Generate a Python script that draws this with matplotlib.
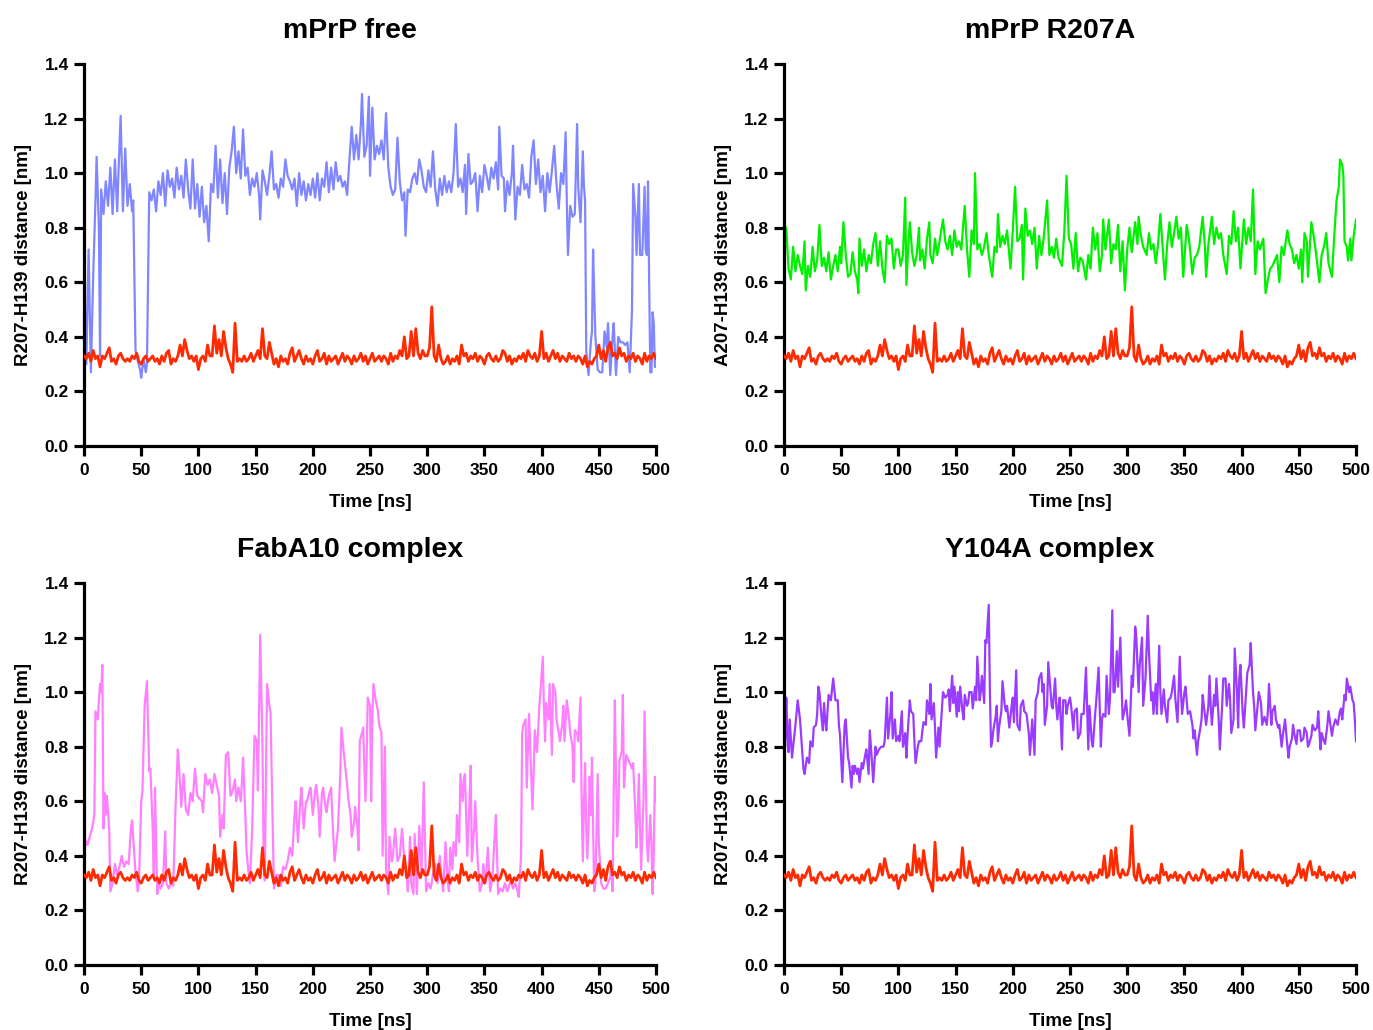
import numpy as np
import matplotlib
matplotlib.use("Agg")
import matplotlib.pyplot as plt

plt.rcParams["font.family"] = ["Liberation Sans", "DejaVu Sans"]
plt.rcParams["font.weight"] = "bold"

# ── data ──────────────────────────────────────────────────────────────────────

# reference trace, same in all four panels, every 2 ns from 0 to 500
ref_vals = [
    0.33, 0.32, 0.34, 0.31, 0.35, 0.32, 0.33, 0.29, 0.33, 0.32,
    0.34, 0.36, 0.31, 0.32, 0.30, 0.33, 0.34, 0.32, 0.31, 0.32,
    0.31, 0.33, 0.32, 0.34, 0.31, 0.30, 0.32, 0.33, 0.31, 0.32,
    0.33, 0.31, 0.32, 0.30, 0.33, 0.31, 0.34, 0.35, 0.30, 0.32,
    0.31, 0.33, 0.37, 0.33, 0.39, 0.35, 0.32, 0.33, 0.31, 0.33,
    0.28, 0.32, 0.33, 0.31, 0.37, 0.33, 0.33, 0.44, 0.34, 0.39,
    0.33, 0.42, 0.36, 0.32, 0.30, 0.27, 0.45, 0.31, 0.32, 0.31,
    0.33, 0.31, 0.32, 0.34, 0.31, 0.33, 0.35, 0.32, 0.43, 0.33,
    0.32, 0.38, 0.34, 0.30, 0.32, 0.29, 0.33, 0.31, 0.32, 0.30,
    0.34, 0.36, 0.31, 0.33, 0.35, 0.32, 0.30, 0.33, 0.31, 0.32,
    0.30, 0.33, 0.35, 0.31, 0.32, 0.34, 0.30, 0.33, 0.31, 0.32,
    0.33, 0.30, 0.32, 0.34, 0.31, 0.33, 0.32, 0.30, 0.33, 0.31,
    0.32, 0.34, 0.31, 0.33, 0.30, 0.32, 0.34, 0.31, 0.32, 0.33,
    0.31, 0.33, 0.32, 0.30, 0.34, 0.31, 0.33, 0.32, 0.35, 0.33,
    0.40, 0.32, 0.33, 0.42, 0.33, 0.43, 0.34, 0.32, 0.35, 0.33,
    0.33, 0.36, 0.51, 0.33, 0.31, 0.37, 0.32, 0.30, 0.31, 0.33,
    0.30, 0.32, 0.31, 0.33, 0.30, 0.37, 0.33, 0.34, 0.31, 0.33,
    0.32, 0.34, 0.31, 0.33, 0.32, 0.30, 0.33, 0.34, 0.32, 0.31,
    0.33, 0.31, 0.32, 0.35, 0.34, 0.31, 0.33, 0.30, 0.32, 0.31,
    0.33, 0.32, 0.34, 0.31, 0.35, 0.33, 0.32, 0.34, 0.31, 0.33,
    0.42, 0.32, 0.34, 0.31, 0.33, 0.35, 0.32, 0.34, 0.31, 0.33,
    0.32, 0.31, 0.34, 0.32, 0.33, 0.31, 0.33, 0.32, 0.30, 0.33,
    0.29, 0.31, 0.30, 0.32, 0.33, 0.37, 0.32, 0.35, 0.31, 0.36,
    0.38, 0.33, 0.34, 0.32, 0.36, 0.33, 0.34, 0.31, 0.33, 0.32,
    0.34, 0.31, 0.33, 0.32, 0.30, 0.34, 0.31, 0.33, 0.32, 0.34,
    0.32,
]

# (time ns, distance nm)
free_pts = [
    (0, 0.65), (2, 0.30), (4, 0.72), (6, 0.27), (8, 0.62), (10, 0.90), (11, 1.06), (13, 0.80),
    (14, 0.33), (15, 0.94), (17, 0.85), (19, 0.97), (21, 0.88), (23, 1.02), (25, 0.85), (27, 1.05),
    (29, 0.86), (30, 0.99), (32, 1.21), (34, 0.86), (36, 1.09), (38, 0.88), (40, 0.96), (42, 0.86),
    (43, 0.90), (45, 0.35), (47, 0.31), (49, 0.28), (50, 0.25), (52, 0.32), (54, 0.27), (55, 0.30),
    (57, 0.93), (59, 0.90), (61, 0.94), (63, 0.86), (65, 0.97), (67, 0.92), (69, 1.00), (71, 0.88),
    (73, 1.01), (75, 0.95), (77, 0.98), (79, 0.91), (81, 1.02), (83, 0.94), (85, 0.99), (87, 0.91),
    (89, 1.05), (91, 0.94), (93, 0.87), (95, 1.05), (97, 0.87), (99, 0.96), (101, 0.84), (103, 0.95),
    (105, 0.82), (107, 0.88), (109, 0.75), (111, 0.96), (113, 0.93), (115, 1.10), (117, 0.91),
    (119, 1.05), (121, 0.89), (123, 1.00), (125, 0.85), (127, 1.02), (129, 1.08), (131, 1.17),
    (133, 1.00), (135, 1.08), (137, 0.98), (139, 1.16), (141, 0.99), (143, 1.02), (145, 0.92),
    (147, 0.98), (149, 0.95), (151, 1.00), (153, 0.92), (154, 0.83), (156, 1.01), (158, 0.97),
    (160, 0.92), (162, 0.99), (164, 1.08), (166, 0.94), (168, 0.96), (170, 0.91), (172, 0.98),
    (174, 0.95), (176, 1.05), (178, 0.99), (180, 0.97), (182, 0.94), (184, 0.98), (186, 0.88),
    (188, 1.00), (190, 0.92), (192, 0.97), (194, 0.90), (196, 0.96), (198, 0.92), (200, 0.98),
    (202, 0.91), (204, 1.00), (206, 0.90), (208, 0.98), (210, 0.95), (212, 1.04), (214, 0.93),
    (216, 1.02), (218, 0.94), (220, 1.04), (222, 0.97), (224, 0.99), (226, 0.95), (228, 0.97),
    (230, 0.92), (232, 1.05), (234, 1.17), (236, 1.05), (238, 1.14), (240, 1.05), (242, 1.18),
    (243, 1.29), (245, 1.06), (247, 1.10), (249, 1.28), (250, 0.99), (252, 1.24), (254, 1.05),
    (256, 1.10), (258, 1.07), (260, 1.12), (262, 1.05), (264, 1.22), (266, 1.02), (268, 0.95),
    (270, 0.92), (272, 0.94), (274, 1.13), (276, 0.97), (278, 0.90), (280, 0.93), (281, 0.77),
    (283, 0.94), (285, 0.93), (287, 0.98), (289, 1.00), (291, 0.96), (293, 1.05), (295, 1.01),
    (297, 0.95), (299, 0.93), (301, 1.01), (303, 0.95), (305, 1.08), (307, 0.94), (309, 0.88),
    (311, 0.98), (313, 0.92), (315, 0.99), (317, 0.93), (319, 0.97), (321, 0.93), (323, 1.00),
    (325, 1.18), (327, 0.95), (329, 0.98), (331, 0.93), (333, 1.03), (334, 0.85), (336, 1.07),
    (338, 0.96), (340, 0.97), (342, 1.00), (344, 0.86), (346, 0.99), (348, 0.93), (350, 1.03),
    (352, 0.99), (354, 0.94), (356, 1.02), (358, 0.98), (360, 1.04), (362, 0.94), (363, 1.17),
    (365, 0.99), (367, 0.98), (368, 0.86), (370, 0.97), (372, 0.92), (374, 1.00), (375, 1.10),
    (377, 0.83), (379, 0.95), (381, 0.92), (383, 1.03), (385, 0.94), (387, 0.96), (389, 0.91),
    (391, 1.06), (393, 1.12), (395, 0.96), (397, 1.05), (399, 0.93), (401, 0.99), (403, 0.86),
    (405, 1.00), (407, 0.93), (409, 1.01), (411, 1.10), (413, 0.96), (415, 0.87), (417, 1.00),
    (419, 0.96), (421, 1.15), (422, 0.90), (423, 0.70), (425, 0.88), (427, 0.84), (429, 0.85),
    (431, 1.18), (432, 0.95), (434, 0.82), (436, 1.08), (437, 0.95), (438, 0.90), (439, 0.35),
    (441, 0.26), (443, 0.38), (444, 0.42), (445, 0.72), (446, 0.55), (447, 0.40), (449, 0.28),
    (451, 0.27), (453, 0.27), (455, 0.42), (457, 0.36), (458, 0.45), (460, 0.26), (462, 0.40),
    (463, 0.45), (465, 0.26), (467, 0.40), (469, 0.38), (471, 0.38), (473, 0.37), (475, 0.38),
    (477, 0.27), (479, 0.50), (480, 0.96), (482, 0.84), (483, 0.70), (485, 0.96), (486, 0.70),
    (488, 0.70), (490, 0.95), (491, 0.72), (492, 0.70), (493, 0.97), (494, 0.60), (495, 0.27),
    (496, 0.27), (497, 0.49), (498, 0.45), (499, 0.29), (500, 0.29),
]

r207a_pts = [
    (0, 0.69), (2, 0.80), (4, 0.65), (6, 0.61), (8, 0.73), (10, 0.64), (12, 0.70), (14, 0.66),
    (16, 0.63), (18, 0.75), (19, 0.57), (21, 0.66), (23, 0.62), (25, 0.73), (27, 0.64), (29, 0.68),
    (31, 0.81), (33, 0.66), (35, 0.69), (37, 0.64), (39, 0.71), (41, 0.61), (43, 0.66), (45, 0.70),
    (47, 0.64), (49, 0.73), (50, 0.67), (52, 0.82), (54, 0.70), (56, 0.62), (58, 0.63), (60, 0.71),
    (62, 0.64), (64, 0.61), (65, 0.56), (66, 0.76), (68, 0.66), (70, 0.72), (72, 0.64), (74, 0.70),
    (76, 0.67), (78, 0.74), (80, 0.78), (82, 0.66), (84, 0.75), (86, 0.65), (88, 0.60), (90, 0.77),
    (92, 0.74), (94, 0.76), (96, 0.65), (98, 0.72), (100, 0.72), (102, 0.66), (104, 0.70),
    (106, 0.91), (107, 0.59), (109, 0.76), (110, 0.82), (112, 0.71), (114, 0.66), (116, 0.70),
    (118, 0.80), (119, 0.68), (121, 0.72), (123, 0.65), (125, 0.76), (127, 0.82), (128, 0.70),
    (130, 0.67), (132, 0.76), (134, 0.70), (136, 0.75), (139, 0.83), (141, 0.75), (143, 0.72),
    (145, 0.77), (147, 0.70), (149, 0.79), (151, 0.73), (153, 0.75), (155, 0.72), (158, 0.88),
    (160, 0.72), (162, 0.62), (164, 0.79), (166, 0.74), (167, 1.00), (169, 0.72), (171, 0.74),
    (173, 0.70), (175, 0.73), (177, 0.78), (179, 0.70), (182, 0.62), (184, 0.73), (186, 0.71),
    (187, 0.85), (189, 0.73), (191, 0.77), (193, 0.74), (195, 0.79), (198, 0.65), (200, 0.79),
    (202, 0.95), (204, 0.75), (206, 0.76), (208, 0.81), (209, 0.61), (211, 0.87), (213, 0.77),
    (215, 0.79), (217, 0.74), (219, 0.80), (221, 0.65), (223, 0.77), (225, 0.70), (227, 0.76),
    (230, 0.90), (232, 0.70), (234, 0.73), (236, 0.69), (238, 0.76), (240, 0.69), (243, 0.66),
    (245, 0.78), (247, 0.99), (249, 0.76), (251, 0.74), (253, 0.65), (255, 0.78), (257, 0.64),
    (259, 0.69), (261, 0.68), (264, 0.61), (266, 0.70), (268, 0.65), (270, 0.80), (272, 0.72),
    (274, 0.78), (276, 0.64), (278, 0.70), (279, 0.83), (281, 0.72), (284, 0.83), (286, 0.67),
    (288, 0.74), (290, 0.72), (292, 0.81), (294, 0.64), (296, 0.75), (298, 0.57), (300, 0.72),
    (302, 0.80), (304, 0.71), (307, 0.82), (309, 0.74), (310, 0.84), (312, 0.77), (314, 0.73),
    (317, 0.70), (319, 0.78), (321, 0.72), (323, 0.74), (325, 0.67), (327, 0.74), (329, 0.85),
    (331, 0.73), (333, 0.61), (335, 0.74), (337, 0.82), (339, 0.73), (341, 0.78), (343, 0.84),
    (345, 0.76), (347, 0.80), (349, 0.62), (352, 0.81), (354, 0.76), (357, 0.63), (359, 0.69),
    (361, 0.70), (363, 0.73), (366, 0.84), (368, 0.73), (369, 0.62), (371, 0.74), (374, 0.84),
    (376, 0.74), (378, 0.80), (380, 0.76), (382, 0.78), (384, 0.70), (387, 0.63), (389, 0.77),
    (391, 0.74), (393, 0.86), (395, 0.75), (397, 0.80), (399, 0.65), (402, 0.83), (404, 0.74),
    (406, 0.80), (408, 0.75), (410, 0.94), (412, 0.63), (414, 0.75), (416, 0.72), (419, 0.76),
    (421, 0.56), (423, 0.61), (425, 0.65), (427, 0.66), (429, 0.68), (431, 0.70), (433, 0.60),
    (435, 0.73), (437, 0.70), (440, 0.79), (442, 0.74), (444, 0.72), (446, 0.67), (448, 0.70),
    (450, 0.65), (452, 0.72), (453, 0.60), (455, 0.78), (457, 0.75), (458, 0.62), (461, 0.82),
    (463, 0.77), (465, 0.71), (468, 0.60), (470, 0.70), (472, 0.73), (474, 0.78), (476, 0.67),
    (479, 0.62), (481, 0.77), (483, 0.90), (485, 0.95), (486, 1.05), (488, 1.03), (489, 0.99),
    (490, 0.75), (492, 0.73), (493, 0.68), (495, 0.76), (496, 0.68), (498, 0.77), (500, 0.83),
]

faba10_pts = [
    (0, 0.28), (1, 0.46), (3, 0.44), (5, 0.47), (7, 0.50), (9, 0.55), (10, 0.93), (12, 0.90),
    (14, 1.03), (15, 1.00), (16, 1.10), (17, 0.50), (18, 0.63), (19, 0.55), (20, 0.62), (22, 0.50),
    (23, 0.27), (25, 0.30), (27, 0.37), (29, 0.33), (31, 0.36), (33, 0.40), (35, 0.36), (37, 0.38),
    (39, 0.37), (41, 0.50), (42, 0.53), (44, 0.40), (45, 0.34), (47, 0.27), (48, 0.30), (50, 0.60),
    (51, 0.63), (53, 0.95), (55, 1.04), (57, 0.71), (58, 0.72), (60, 0.50), (61, 0.32), (62, 0.65),
    (64, 0.26), (65, 0.30), (67, 0.28), (69, 0.30), (71, 0.49), (72, 0.30), (74, 0.28), (76, 0.30),
    (78, 0.29), (80, 0.58), (82, 0.79), (83, 0.73), (85, 0.58), (87, 0.70), (89, 0.57), (91, 0.55),
    (93, 0.63), (95, 0.60), (97, 0.72), (99, 0.62), (101, 0.61), (103, 0.60), (104, 0.56),
    (106, 0.70), (108, 0.66), (110, 0.68), (112, 0.63), (114, 0.70), (116, 0.66), (118, 0.62),
    (119, 0.47), (121, 0.55), (122, 0.50), (124, 0.77), (126, 0.78), (128, 0.62), (130, 0.64),
    (132, 0.68), (133, 0.60), (135, 0.65), (137, 0.60), (138, 0.67), (139, 0.76), (141, 0.55),
    (142, 0.42), (144, 0.33), (145, 0.30), (147, 0.50), (149, 0.84), (151, 0.82), (152, 0.64),
    (154, 1.21), (156, 0.80), (157, 0.40), (158, 0.31), (160, 1.03), (162, 0.95), (163, 0.93),
    (165, 0.50), (166, 0.28), (168, 0.33), (170, 0.33), (172, 0.29), (174, 0.36), (176, 0.35),
    (178, 0.38), (180, 0.43), (182, 0.40), (184, 0.55), (185, 0.60), (187, 0.45), (189, 0.60),
    (190, 0.65), (192, 0.50), (194, 0.60), (195, 0.60), (197, 0.64), (198, 0.65), (200, 0.55),
    (202, 0.64), (203, 0.66), (205, 0.58), (206, 0.47), (208, 0.63), (209, 0.65), (211, 0.58),
    (212, 0.56), (214, 0.62), (216, 0.65), (217, 0.55), (219, 0.38), (220, 0.42), (222, 0.50),
    (224, 0.70), (225, 0.87), (227, 0.78), (228, 0.74), (230, 0.66), (231, 0.61), (233, 0.55),
    (234, 0.47), (236, 0.52), (237, 0.58), (239, 0.50), (240, 0.42), (241, 0.82), (243, 0.85),
    (244, 0.87), (246, 0.60), (247, 0.75), (248, 0.98), (250, 0.95), (251, 0.60), (252, 0.90),
    (253, 1.03), (255, 0.97), (257, 0.93), (258, 0.88), (260, 0.85), (261, 0.40), (263, 0.80),
    (264, 0.35), (266, 0.26), (267, 0.47), (269, 0.38), (270, 0.40), (272, 0.50), (274, 0.38),
    (276, 0.40), (278, 0.50), (280, 0.38), (282, 0.34), (283, 0.27), (285, 0.47), (286, 0.30),
    (288, 0.26), (289, 0.48), (291, 0.26), (293, 0.51), (295, 0.34), (297, 0.67), (299, 0.27),
    (301, 0.30), (303, 0.28), (305, 0.33), (307, 0.37), (309, 0.30), (311, 0.40), (313, 0.30),
    (314, 0.27), (316, 0.45), (318, 0.30), (319, 0.27), (320, 0.43), (322, 0.35), (323, 0.45),
    (325, 0.40), (326, 0.55), (328, 0.45), (329, 0.70), (331, 0.60), (332, 0.68), (333, 0.70),
    (335, 0.40), (337, 0.60), (338, 0.73), (339, 0.38), (341, 0.50), (342, 0.60), (344, 0.39),
    (346, 0.27), (348, 0.30), (349, 0.37), (351, 0.30), (353, 0.43), (355, 0.27), (357, 0.32),
    (358, 0.40), (360, 0.55), (362, 0.26), (364, 0.28), (366, 0.27), (368, 0.30), (370, 0.27),
    (373, 0.31), (375, 0.28), (377, 0.30), (379, 0.27), (380, 0.25), (382, 0.40), (383, 0.85),
    (384, 0.88), (386, 0.90), (387, 0.65), (389, 0.92), (390, 0.80), (392, 0.57), (393, 0.70),
    (394, 0.86), (396, 0.78), (398, 0.95), (399, 1.00), (401, 1.13), (402, 0.95), (403, 0.82),
    (404, 0.96), (406, 0.90), (407, 1.03), (408, 0.90), (409, 0.77), (410, 1.03), (412, 1.00),
    (413, 0.90), (415, 0.85), (416, 0.82), (418, 0.88), (419, 0.95), (420, 0.82), (422, 0.97),
    (424, 0.90), (425, 0.85), (427, 0.80), (428, 0.67), (429, 0.86), (431, 0.85), (432, 0.82),
    (434, 0.98), (435, 0.60), (436, 0.38), (437, 0.60), (438, 0.74), (439, 0.50), (440, 0.39),
    (441, 0.50), (442, 0.69), (443, 0.55), (444, 0.76), (445, 0.50), (446, 0.27), (447, 0.30),
    (449, 0.70), (450, 0.45), (452, 0.30), (454, 0.28), (456, 0.28), (458, 0.30), (460, 0.32),
    (461, 0.38), (462, 0.27), (464, 0.97), (465, 0.70), (466, 0.47), (467, 0.55), (468, 0.75),
    (470, 0.78), (471, 0.99), (472, 0.65), (474, 0.77), (476, 0.75), (477, 0.74), (479, 0.72),
    (480, 0.74), (482, 0.55), (483, 0.43), (485, 0.70), (486, 0.50), (487, 0.35), (489, 0.60),
    (490, 0.93), (492, 0.45), (493, 0.38), (495, 0.55), (496, 0.45), (497, 0.26), (498, 0.40),
    (499, 0.69), (500, 0.60),
]

y104a_pts = [
    (0, 0.86), (1, 0.80), (2, 0.98), (3, 0.85), (4, 0.78), (5, 0.90), (6, 0.83), (7, 0.76),
    (8, 0.80), (10, 0.88), (12, 0.97), (14, 0.90), (16, 0.78), (17, 0.72), (18, 0.70), (20, 0.76),
    (22, 0.74), (23, 0.82), (25, 0.80), (26, 0.87), (28, 0.88), (29, 0.92), (30, 1.02), (31, 1.00),
    (33, 0.90), (34, 0.86), (35, 0.96), (36, 0.90), (37, 0.86), (39, 0.99), (41, 0.97), (43, 1.05),
    (45, 0.97), (47, 0.97), (48, 0.88), (49, 0.84), (51, 0.67), (53, 0.88), (54, 0.90), (56, 0.76),
    (57, 0.74), (59, 0.65), (60, 0.73), (61, 0.70), (62, 0.73), (64, 0.70), (65, 0.72), (66, 0.67),
    (68, 0.74), (69, 0.72), (71, 0.77), (72, 0.79), (74, 0.70), (75, 0.86), (77, 0.74), (78, 0.67),
    (80, 0.80), (81, 0.77), (83, 0.79), (85, 0.80), (87, 0.80), (88, 0.82), (90, 0.98), (91, 0.83),
    (93, 0.92), (94, 1.00), (95, 0.83), (97, 0.90), (98, 0.82), (100, 0.84), (101, 0.82),
    (103, 0.93), (104, 0.80), (106, 0.85), (107, 0.76), (108, 0.84), (110, 0.97), (111, 0.93),
    (113, 0.92), (114, 0.82), (115, 0.74), (117, 0.80), (118, 0.82), (120, 0.82), (121, 0.86),
    (122, 0.89), (124, 0.88), (125, 0.97), (127, 0.92), (128, 1.03), (129, 0.90), (131, 0.96),
    (132, 0.87), (133, 0.76), (135, 0.87), (136, 0.80), (137, 0.87), (139, 1.00), (141, 0.98),
    (143, 0.99), (144, 1.01), (145, 0.93), (147, 1.06), (148, 0.96), (149, 1.02), (151, 0.91),
    (152, 1.00), (153, 0.93), (154, 1.02), (156, 0.93), (157, 0.90), (158, 0.99), (160, 0.95),
    (161, 0.96), (162, 1.00), (164, 1.00), (165, 0.94), (167, 1.02), (168, 0.97), (169, 1.13),
    (171, 0.97), (172, 1.00), (173, 1.06), (175, 0.96), (176, 1.19), (177, 1.18), (179, 1.32),
    (180, 1.00), (181, 0.80), (182, 0.82), (183, 0.86), (185, 0.91), (186, 0.95), (187, 0.82),
    (188, 0.87), (190, 0.93), (191, 1.04), (193, 0.95), (194, 0.93), (195, 0.95), (197, 0.87),
    (199, 0.95), (200, 0.98), (201, 0.89), (203, 1.08), (204, 0.88), (206, 0.86), (207, 0.95),
    (209, 0.97), (210, 0.93), (212, 0.92), (214, 0.85), (215, 0.77), (217, 0.90), (219, 0.77),
    (220, 0.97), (222, 1.00), (223, 1.05), (225, 1.07), (226, 1.00), (227, 1.03), (228, 0.88),
    (230, 0.95), (231, 1.11), (233, 1.00), (234, 0.95), (235, 0.94), (237, 1.05), (238, 0.95),
    (239, 0.90), (240, 0.95), (241, 0.98), (243, 0.79), (244, 0.97), (246, 0.97), (247, 0.92),
    (248, 0.95), (250, 0.98), (251, 0.95), (253, 0.86), (254, 0.93), (256, 0.94), (257, 0.83),
    (259, 0.85), (260, 0.92), (262, 0.92), (264, 1.09), (266, 0.79), (267, 0.95), (269, 0.82),
    (270, 0.80), (272, 0.92), (273, 0.97), (275, 1.09), (277, 0.80), (278, 0.90), (279, 0.92),
    (281, 0.91), (282, 1.06), (284, 0.92), (285, 0.98), (287, 1.30), (288, 1.00), (289, 1.00),
    (291, 1.15), (292, 1.02), (294, 1.20), (295, 1.05), (296, 0.90), (298, 0.94), (299, 0.97),
    (300, 0.92), (302, 0.84), (304, 1.06), (305, 1.02), (307, 1.24), (308, 1.20), (310, 1.00),
    (311, 1.10), (313, 1.20), (314, 0.95), (316, 1.05), (318, 1.28), (319, 1.15), (321, 0.97),
    (322, 1.00), (323, 0.92), (325, 1.03), (326, 0.92), (328, 1.17), (329, 1.00), (330, 0.92),
    (332, 1.01), (333, 0.95), (335, 0.89), (336, 0.97), (338, 0.98), (339, 1.00), (341, 1.06),
    (342, 0.98), (344, 0.89), (346, 1.13), (347, 1.00), (348, 0.92), (350, 1.00), (351, 1.02),
    (353, 0.92), (355, 0.93), (357, 0.88), (358, 0.83), (359, 0.86), (361, 0.77), (362, 0.82),
    (364, 0.87), (365, 0.90), (366, 0.99), (367, 0.95), (369, 0.88), (371, 0.95), (372, 1.06),
    (373, 0.95), (374, 0.88), (376, 0.99), (377, 0.95), (378, 1.05), (380, 0.90), (381, 0.79),
    (383, 0.95), (384, 1.05), (386, 1.05), (387, 0.95), (389, 1.03), (390, 0.97), (391, 0.85),
    (393, 0.90), (394, 1.16), (396, 1.00), (397, 0.87), (398, 1.05), (399, 1.10), (401, 0.92),
    (402, 0.87), (404, 1.00), (405, 1.07), (407, 1.10), (408, 1.18), (410, 1.00), (411, 0.95),
    (412, 0.86), (414, 0.95), (415, 1.00), (417, 0.96), (418, 0.88), (420, 0.91), (422, 0.88),
    (423, 0.93), (424, 1.03), (426, 0.88), (427, 0.93), (429, 0.95), (430, 0.90), (432, 0.87),
    (433, 0.88), (435, 0.80), (436, 0.84), (438, 0.90), (439, 0.85), (441, 0.76), (442, 0.80),
    (444, 0.83), (445, 0.88), (446, 0.85), (448, 0.81), (449, 0.86), (451, 0.86), (452, 0.82),
    (454, 0.83), (455, 0.87), (457, 0.85), (458, 0.80), (459, 0.81), (461, 0.84), (462, 0.88),
    (464, 0.86), (466, 0.87), (467, 0.93), (469, 0.79), (470, 0.85), (472, 0.82), (473, 0.81),
    (475, 0.88), (476, 0.93), (477, 0.90), (479, 0.84), (480, 0.87), (482, 0.90), (484, 0.88),
    (486, 0.93), (487, 0.94), (488, 0.90), (490, 0.99), (491, 0.97), (492, 1.05), (494, 1.00),
    (495, 1.02), (497, 0.97), (498, 0.96), (499, 0.90), (500, 0.82),
]

titles  = ["mPrP free", "mPrP R207A", "FabA10 complex", "Y104A complex"]
ylabels = ["R207-H139 distance [nm]", "A207-H139 distance [nm]",
           "R207-H139 distance [nm]", "R207-H139 distance [nm]"]
series  = [free_pts, r207a_pts, faba10_pts, y104a_pts]
colors  = ["#7f86ff", "#00f000", "#ff80ff", "#9a3cff"]
REF_COLOR = "#ff2a00"

# ── figure ────────────────────────────────────────────────────────────────────

fig = plt.figure(figsize=(13.73, 10.30), dpi=100)
lefts   = [0.0612, 0.5710, 0.0612, 0.5710]
bottoms = [0.5670, 0.5670, 0.0631, 0.0631]
W, H = 0.4166, 0.3709

t_ref = np.linspace(0, 500, len(ref_vals))

for i in range(4):
    ax = fig.add_axes([lefts[i], bottoms[i], W, H])
    t, y = np.array(series[i]).T
    ax.plot(t, y, color=colors[i], lw=1.6, zorder=2)
    ax.plot(t_ref, ref_vals, color=REF_COLOR, lw=2.0, zorder=3)

    ax.set_xlim(0, 500)
    ax.set_ylim(0, 1.4)
    ax.set_xticks(np.arange(0, 501, 50))
    ax.set_yticks(np.arange(0, 1.41, 0.2))
    ax.set_yticklabels([f"{v:.1f}" for v in np.arange(0, 1.41, 0.2)])

    for s in ["top", "right"]:
        ax.spines[s].set_visible(False)
    for s in ["left", "bottom"]:
        ax.spines[s].set_linewidth(2.3)
    ax.tick_params(direction="out", length=7, width=2.3, labelsize=12.5, pad=4)
    ax.tick_params(axis="x", pad=5.5)
    for lab in ax.get_xticklabels() + ax.get_yticklabels():
        lab.set_fontweight("bold")

    # titles sit a little left of the axes centre in the reference
    ax.set_title(titles[i], fontsize=20.5, fontweight="bold", pad=19, x=0.465)
    ax.set_xlabel("Time [ns]", fontsize=13.5, fontweight="bold", labelpad=11)
    ax.set_ylabel(ylabels[i], fontsize=13.5, fontweight="bold", labelpad=9)

fig.savefig("out.png", dpi=100)
plt.close(fig)
